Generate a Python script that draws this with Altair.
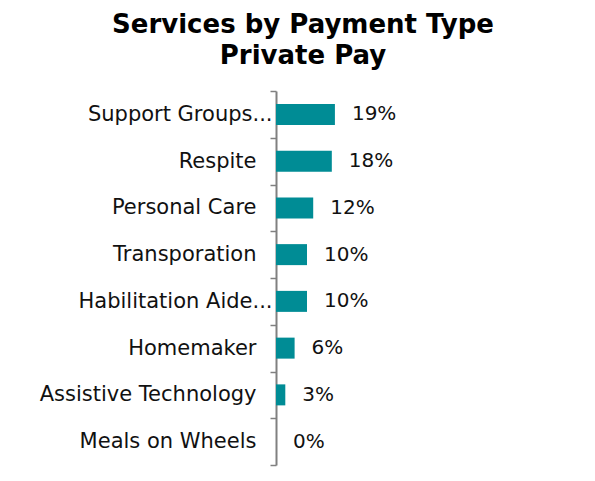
import altair as alt
import pandas as pd

categories = ["Support Groups...", "Respite", "Personal Care", "Transporation",
              "Habilitation Aide...", "Homemaker", "Assistive Technology", "Meals on Wheels"]
values = [19, 18, 12, 10, 10, 6, 3, 0]
labels = ["19%", "18%", "12%", "10%", "10%", "6%", "3%", "0%"]

df = pd.DataFrame({"service": categories, "pct": values, "label": labels})

FONT = "DejaVu Sans"
TEAL = "#008C95"

y = alt.Y(
    "service:N", sort=categories, title=None,
    scale=alt.Scale(paddingInner=0, paddingOuter=0),
    axis=alt.Axis(
        tickBand="extent", tickSize=6, tickColor="#808080", tickWidth=1.5,
        domainColor="#808080", domainWidth=2,
        labelFont=FONT, labelFontSize=21, labelColor="#111111",
        labelPadding={"condition": {"test": "indexof(datum.label, '...') >= 0", "value": -2}, "value": 14},
        labelLimit=400,
    ),
)
x = alt.X("pct:Q", axis=None, scale=alt.Scale(domain=[0, 64.5], nice=False, zero=True))

bars = alt.Chart(df).mark_bar(size=21, color=TEAL).encode(x=x, y=y)
text = alt.Chart(df).mark_text(
    align="left", baseline="middle", dx=17, font=FONT, fontSize=20, color="#111111"
).encode(x=x, y=y, text="label:N")

chart = alt.layer(bars, text).properties(
    width=200,
    height=374,
    title=alt.TitleParams(
        text=["Services by Payment Type", "Private Pay"],
        font=FONT, fontSize=26, fontWeight="bold", color="#000000",
        lineHeight=31, anchor="start", align="center", dx=27, frame="group", offset=11,
    ),
    autosize="none",
    padding={"left": 268, "top": 83, "right": 100, "bottom": 16},
).configure_view(stroke=None)

chart.save("out.html", embed_options={"renderer": "svg", "actions": False})
